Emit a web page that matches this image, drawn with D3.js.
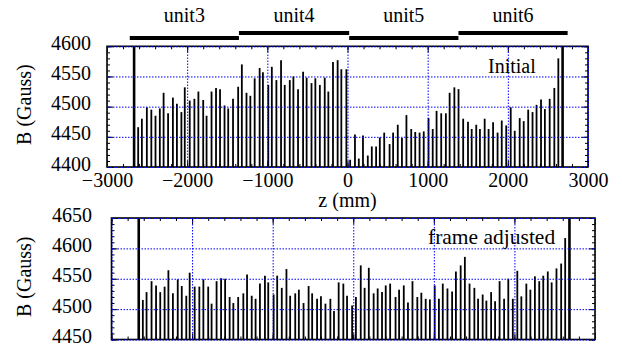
<!DOCTYPE html>
<html><head><meta charset="utf-8">
<script src="https://cdn.jsdelivr.net/npm/d3@7"></script>
<style>
body{margin:0;background:#fff}
svg{display:block}
svg text{font-family:"Liberation Serif","DejaVu Serif","Times New Roman",Times,serif !important;fill:#000}
</style>
</head><body>
<svg id="c" width="622" height="346"></svg>
<script>
// ---- data ----
const zPositions = [
 -2611,-2565,-2503,-2447,-2395,-2341,-2294,-2238,-2178,-2128,-2072,-2030,-1968,-1910,-1860,-1800,-1758,
 -1696,-1640,-1590,-1534,-1488,-1428,-1364,-1318,-1260,-1212,-1158,-1096,-1055,-988,-944,-887,-829,
 -783,-720,-675,-617,-554,-510,-449,-401,-345,-284,-239,-181,-123,-77,-14,
 33,93,141,193,253,303,357,403,458,525,569,627,679,735,795,845,899,951,1011,1063,1111,1169,1227,
 1274,1333,1385,1443,1503,1549,1606,1652,1711,1760,1816,1872,1924,1980,2036,2086,2148,2198,2254,
 2308,2358,2414,2462,2522,2580,2630
];
const bInitial = [
 4466,4480,4499,4495,4485,4497,4523,4489,4515,4505,4491,4532,4510,4513,4525,4511,4485,4525,4531,
 4529,4502,4497,4513,4533,4570,4523,4518,4547,4564,4557,4536,4566,4544,4577,4536,4544,4550,4529,
 4558,4548,4539,4547,4536,4548,4525,4574,4577,4562,4562,
 4412,4454,4414,4452,4419,4434,4434,4449,4457,4438,4457,4470,4448,4486,4463,4458,4457,4459,4481,
 4463,4493,4489,4489,4523,4532,4529,4480,4475,4463,4470,4463,4480,4463,4474,4457,4477,4469,4499,
 4460,4481,4476,4495,4491,4503,4512,4496,4513,4531,4580
];
const bAdjusted = [
 4515,4528,4546,4539,4528,4537,4564,4526,4549,4538,4522,4560,4537,4537,4549,4537,4509,4546,4551,
 4550,4520,4510,4520,4526,4557,4522,4517,4542,4555,4544,4524,4555,4535,4566,4522,4526,4532,4510,
 4538,4526,4517,4521,4509,4517,4497,4544,4542,4522,4506,
 4520,4572,4535,4568,4526,4534,4528,4539,4542,4520,4532,4539,4511,4546,4520,4527,4517,4516,4539,
 4517,4542,4534,4529,4562,4572,4586,4542,4535,4517,4524,4514,4528,4513,4546,4517,4550,4517,4563,
 4521,4542,4532,4554,4546,4555,4562,4544,4567,4575,4617
];
const markerZ = [-2662, 2683];
const unitNames = ["unit3","unit4","unit5","unit6"];
const unitStart = [-2716,-1354,21,1384];
const unitEnd   = [-1354,21,1384,2746];
const xTicks = [-3000,-2000,-1000,0,1000,2000,3000];
const yTicksTop = [4400,4450,4500,4550,4600];
const yTicksBottom = [4450,4500,4550,4600,4650];
const panelLabels = ["Initial","frame adjusted"];
const yTitle = "B (Gauss)";
const xTitle = "z (mm)";

// ---- drawing ----
const svg = d3.select("#c");
const FS = 20;
const FONT = "Liberation Serif, DejaVu Serif, serif";

const panels = [
  {x0:107, x1:588, y0:46.3, y1:167, yDom:[4400,4600], yTicks:yTicksTop, vals:bInitial,
   label:panelLabels[0], lx:488, ly:72.5, lfs:20, xLabels:true, ypad:16},
  {x0:111.5, x1:595, y0:218, y1:339.5, yDom:[4450,4650], yTicks:yTicksBottom, vals:bAdjusted,
   label:panelLabels[1], lx:428, ly:243.5, lfs:21.5, xLabels:false, ypad:19.5}
];

let topX;
panels.forEach((p, pi) => {
  const x = d3.scaleLinear().domain([-3000,3000]).range([p.x0,p.x1]);
  const y = d3.scaleLinear().domain(p.yDom).range([p.y1,p.y0]);
  if (pi === 0) topX = x;
  const W = p.x1 - p.x0, H = p.y1 - p.y0;
  const g = svg.append("g");

  // bars
  g.append("g").selectAll("line").data(zPositions).join("line")
    .attr("x1", d => x(d)).attr("x2", d => x(d))
    .attr("y1", y(p.yDom[0])).attr("y2", (d,i) => y(p.vals[i]))
    .attr("stroke", "#000").attr("stroke-width", 1.8);

  // marker lines
  g.append("g").selectAll("line").data(markerZ).join("line")
    .attr("x1", d => x(d)).attr("x2", d => x(d))
    .attr("y1", p.y1).attr("y2", p.y0)
    .attr("stroke", "#000").attr("stroke-width", 2.6);

  // frame
  g.append("rect").attr("x", p.x0).attr("y", p.y0).attr("width", W).attr("height", H)
    .attr("fill", "none").attr("stroke", "#000").attr("stroke-width", 1.6);

  // inward ticks
  const minorX = d3.range(-3000, 3001, 200);
  const minorY = d3.range(p.yDom[0], p.yDom[1] + 1, 10);
  const tickStyle = sel => { sel.select(".domain").remove(); sel.selectAll("text").remove();
    sel.selectAll("line").attr("stroke","#000").attr("stroke-width",1); };
  g.append("g").attr("transform",`translate(0,${p.y1})`)
    .call(d3.axisBottom(x).tickValues(minorX).tickSize(-3)).call(tickStyle);
  g.append("g").attr("transform",`translate(0,${p.y1})`)
    .call(d3.axisBottom(x).tickValues(xTicks).tickSize(-6)).call(tickStyle);
  g.append("g").attr("transform",`translate(0,${p.y0})`)
    .call(d3.axisTop(x).tickValues(minorX).tickSize(-3)).call(tickStyle);
  g.append("g").attr("transform",`translate(0,${p.y0})`)
    .call(d3.axisTop(x).tickValues(xTicks).tickSize(-6)).call(tickStyle);
  g.append("g").attr("transform",`translate(${p.x0},0)`)
    .call(d3.axisLeft(y).tickValues(minorY).tickSize(-3)).call(tickStyle);
  g.append("g").attr("transform",`translate(${p.x0},0)`)
    .call(d3.axisLeft(y).tickValues(p.yTicks).tickSize(-6)).call(tickStyle);
  g.append("g").attr("transform",`translate(${p.x1},0)`)
    .call(d3.axisRight(y).tickValues(minorY).tickSize(-3)).call(tickStyle);
  g.append("g").attr("transform",`translate(${p.x1},0)`)
    .call(d3.axisRight(y).tickValues(p.yTicks).tickSize(-6)).call(tickStyle);

  // dotted blue grid (including the frame edges)
  const gridStyle = sel => { sel.select(".domain").remove(); sel.selectAll("text").remove();
    sel.selectAll("line").attr("stroke","#0000ff").attr("stroke-width",1)
      .attr("stroke-dasharray","1.5,1.5"); };
  g.append("g").attr("transform",`translate(0,${p.y1})`)
    .call(d3.axisBottom(x).tickValues(xTicks).tickSize(-H)).call(gridStyle);
  g.append("g").attr("transform",`translate(${p.x0},0)`)
    .call(d3.axisLeft(y).tickValues(p.yTicks).tickSize(-W)).call(gridStyle);

  // y tick labels
  const yl = g.append("g").attr("transform",`translate(${p.x0},0)`)
    .call(d3.axisLeft(y).tickValues(p.yTicks).tickSize(0).tickPadding(p.ypad).tickFormat(d3.format("d")));
  yl.attr("font-family", FONT).attr("font-size", FS);
  yl.select(".domain").remove();
  yl.selectAll("text").attr("dy", "0.15em");

  // x tick labels
  if (p.xLabels) {
    const xl = g.append("g").attr("transform",`translate(0,${p.y1})`)
      .call(d3.axisBottom(x).tickValues(xTicks).tickSize(0).tickPadding(6).tickFormat(d3.format("d")));
    xl.attr("font-family", FONT).attr("font-size", FS);
    xl.select(".domain").remove();
    g.append("text").attr("x", x(0)).attr("y", 207).attr("text-anchor","middle")
      .attr("font-size", FS).text(xTitle);
  }

  // y title
  g.append("text").attr("transform",`translate(31,${(p.y0+p.y1)/2 - 2}) rotate(-90)`)
    .attr("text-anchor","middle").attr("font-size", FS).text(yTitle);

  // panel label
  g.append("text").attr("x", p.lx).attr("y", p.ly)
    .attr("font-size", p.lfs).text(p.label);
});

// unit bars at the top
const ug = svg.append("g");
unitNames.forEach((n, i) => {
  const yy = (i % 2 === 0) ? 38 : 33;
  ug.append("line").attr("x1", topX(unitStart[i])).attr("x2", topX(unitEnd[i]))
    .attr("y1", yy).attr("y2", yy).attr("stroke","#000").attr("stroke-width",4.2);
  ug.append("text").attr("x", (topX(unitStart[i]) + topX(unitEnd[i]))/2).attr("y", 21.5)
    .attr("text-anchor","middle").attr("font-size", FS).text(n);
});
</script>
</body></html>
